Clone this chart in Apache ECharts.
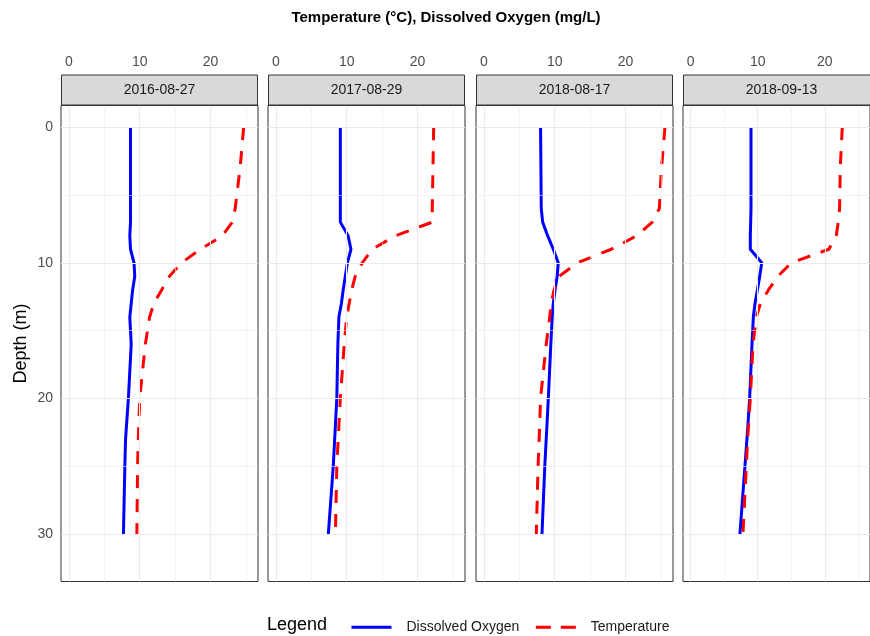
<!DOCTYPE html>
<html>
<head>
<meta charset="UTF-8">
<title>Depth profiles</title>
<script src="https://cdn.jsdelivr.net/npm/echarts@6/dist/echarts.min.js"></script>
<style>
  body{margin:0;background:#fff}
</style>
</head>
<body>
<div id="main" style="width:870px;height:636px"></div>
<script>
// facet labels
var dates = ['2016-08-27', '2017-08-29', '2018-08-17', '2018-09-13'];

// depth (m) of each reading, shared by all profiles
var depths = [0, 3, 6, 7, 8, 9, 10, 11, 12, 13, 14, 16, 20, 23, 25, 30];

// dissolved oxygen (mg/L)
var oxy2016  = [8.7, 8.7, 8.7, 8.7, 8.6, 8.7, 9.2, 9.3, 9.0, 8.8, 8.6, 8.8, 8.4, 8.0, 7.9, 7.7];
var oxy2017  = [9.1, 9.1, 9.1, 9.1, 10.2, 10.6, 10.1, 9.8, 9.5, 9.25, 8.9, 8.75, 8.6, 8.3, 8.1, 7.4];
var oxy2018a = [8.0, 8.05, 8.1, 8.3, 9.0, 9.8, 10.5, 10.35, 10.05, 9.8, 9.65, 9.45, 9.1, 8.8, 8.6, 8.2];
var oxy2018b = [9.0, 9.0, 9.0, 8.95, 8.9, 8.9, 10.6, 10.3, 9.95, 9.6, 9.35, 9.15, 8.8, 8.4, 8.1, 7.35];

// temperature (°C)
var temp2016  = [24.7, 24.2, 23.5, 23.1, 21.7, 18.6, 15.9, 14.2, 13.1, 12.0, 11.4, 10.8, 10.0, 9.8, 9.7, 9.6];
var temp2017  = [22.3, 22.2, 22.1, 22.1, 16.9, 13.6, 12.2, 11.2, 10.7, 10.35, 10.0, 9.65, 9.1, 8.8, 8.6, 8.4];
var temp2018a = [25.6, 25.1, 24.8, 23.8, 21.6, 18.0, 13.2, 10.6, 9.9, 9.5, 9.3, 8.8, 8.0, 7.8, 7.65, 7.4];
var temp2018b = [22.6, 22.3, 22.2, 22.0, 21.7, 20.6, 15.0, 13.0, 11.6, 10.4, 9.8, 9.3, 8.9, 8.5, 8.3, 7.8];

// axis breaks
var xTicks = [0, 10, 20];
var xMinor = [5, 15, 25];
var yTicks = [0, 10, 20, 30];
var yMinor = [5, 15, 25];

var oxygenSets = [oxy2016, oxy2017, oxy2018a, oxy2018b];
var tempSets = [temp2016, temp2017, temp2018a, temp2018b];

var panelLeft = [61, 268, 476, 683];
var panelW = 197, panelTop = 105.5, panelH = 476, stripH = 31;

var myChart = echarts.init(document.getElementById('main'));

var grids = [], xAxes = [], yAxes = [], series = [], graphics = [];

for (var i = 0; i < 4; i++) {
    grids.push({
        left: panelLeft[i], top: panelTop, width: panelW, height: panelH,
        show: true, borderColor: '#333333', borderWidth: 1, backgroundColor: '#fff'
    });
    xAxes.push({
        gridIndex: i, type: 'value', position: 'top', offset: stripH,
        min: -1.13, max: 26.73,
        axisLine: {show: false},
        axisTick: {show: true, length: 4, customValues: xTicks, lineStyle: {color: '#333333'}},
        axisLabel: {customValues: xTicks, color: '#4D4D4D', fontSize: 14, margin: 5, fontFamily: 'Liberation Sans'},
        splitLine: {show: false}
    });
    yAxes.push({
        gridIndex: i, type: 'value', inverse: true, min: -1.6, max: 33.5,
        name: i === 0 ? 'Depth (m)' : '',
        nameLocation: 'middle', nameRotate: 90, nameGap: 31,
        nameTextStyle: {fontSize: 18, color: '#000', fontFamily: 'Liberation Sans'},
        axisLine: {show: false},
        axisTick: {show: i === 0, length: 4, customValues: yTicks, lineStyle: {color: '#333333'}},
        axisLabel: {show: i === 0, customValues: yTicks, color: '#4D4D4D', fontSize: 14, margin: 8, fontFamily: 'Liberation Sans'},
        splitLine: {show: false}
    });

    // panel grid lines
    var lines = [];
    xTicks.forEach(function (v) { lines.push({xAxis: v, lineStyle: {width: 1.1}}); });
    xMinor.forEach(function (v) { lines.push({xAxis: v, lineStyle: {width: 0.6}}); });
    yTicks.forEach(function (v) { lines.push({yAxis: v, lineStyle: {width: 1.1}}); });
    yMinor.forEach(function (v) { lines.push({yAxis: v, lineStyle: {width: 0.6}}); });
    series.push({
        type: 'line', xAxisIndex: i, yAxisIndex: i, data: [], silent: true, z: 1,
        markLine: {
            silent: true, animation: false, symbol: ['none', 'none'],
            label: {show: false},
            lineStyle: {color: '#EBEBEB', type: 'solid'},
            data: lines
        }
    });

    var ox = oxygenSets[i], tp = tempSets[i];
    series.push({
        name: 'Dissolved Oxygen', type: 'line', xAxisIndex: i, yAxisIndex: i, z: 3,
        symbol: 'none', itemStyle: {color: '#0000FF'},
        lineStyle: {color: '#0000FF', width: 3},
        data: depths.map(function (d, k) { return [ox[k], d]; })
    });
    series.push({
        name: 'Temperature', type: 'line', xAxisIndex: i, yAxisIndex: i, z: 3,
        symbol: 'none', itemStyle: {color: '#FF0000'},
        lineStyle: {color: '#FF0000', width: 3, type: [13, 11]},
        data: depths.map(function (d, k) { return [tp[k], d]; })
    });

    // strip header
    graphics.push({
        type: 'rect', z: 10,
        shape: {x: panelLeft[i] + 0.5, y: panelTop - stripH + 0.5, width: panelW - 1, height: stripH - 1},
        style: {fill: '#D9D9D9', stroke: '#333333', lineWidth: 1}
    });
    graphics.push({
        type: 'text', z: 11,
        x: panelLeft[i] + panelW / 2, y: panelTop - stripH / 2,
        style: {text: dates[i], fill: '#1A1A1A', font: '14px "Liberation Sans"', align: 'center', verticalAlign: 'middle'}
    });
}

graphics.push({
    type: 'text', x: 446, y: 18,
    style: {text: 'Temperature (°C), Dissolved Oxygen (mg/L)', fill: '#000', font: 'bold 15px "Liberation Sans"',
        align: 'center', verticalAlign: 'middle'}
});
graphics.push({
    type: 'text', x: 267, y: 625,
    style: {text: 'Legend', fill: '#000', font: '18px "Liberation Sans"', align: 'left', verticalAlign: 'middle'}
});

var option = {
    animation: false,
    grid: grids,
    xAxis: xAxes,
    yAxis: yAxes,
    legend: {
        data: [
            {name: 'Dissolved Oxygen', lineStyle: {width: 3, type: 'solid'}},
            {name: 'Temperature', lineStyle: {width: 3, type: [15, 10]}}
        ],
        left: 345, top: 615, itemWidth: 40, itemHeight: 18, itemGap: 15,
        itemStyle: {opacity: 0},
        textStyle: {fontSize: 14, color: '#1A1A1A', fontFamily: 'Liberation Sans', padding: [0, 0, 0, 10]},
        selectedMode: false
    },
    graphic: graphics,
    series: series
};
myChart.setOption(option);
</script>
</body>
</html>
